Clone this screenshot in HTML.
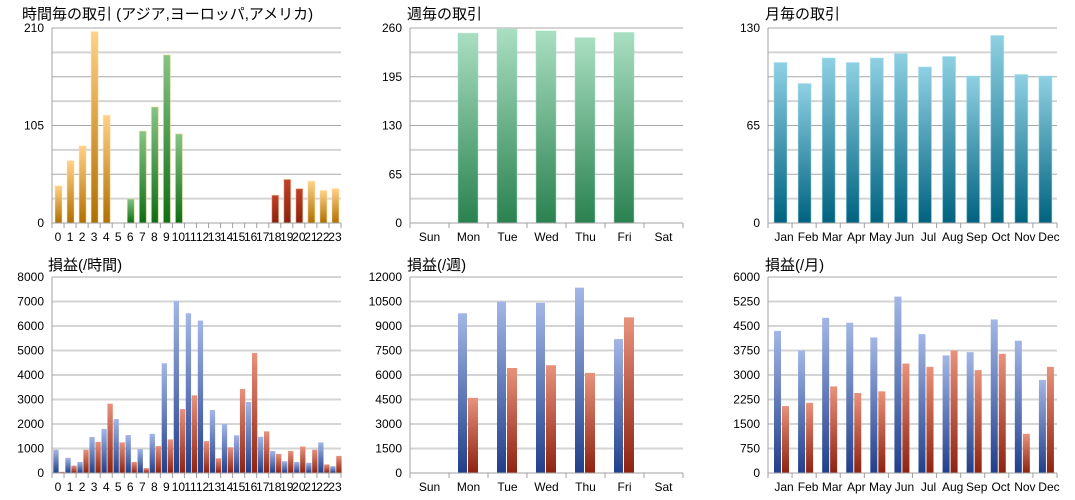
<!DOCTYPE html>
<html><head><meta charset="utf-8"><style>
html,body{margin:0;padding:0;background:#fff;width:1075px;height:500px;overflow:hidden}
svg text{font-family:"Liberation Sans","Noto Sans CJK JP",sans-serif;fill:#000}
</style></head><body>
<svg id="s" width="1075" height="500" xmlns="http://www.w3.org/2000/svg">
<defs>
<linearGradient id="gO" x1="0" y1="0" x2="0" y2="1"><stop offset="0" stop-color="#ffd187"/><stop offset="1" stop-color="#b06f00"/></linearGradient>
<linearGradient id="gG" x1="0" y1="0" x2="0" y2="1"><stop offset="0" stop-color="#86c486"/><stop offset="1" stop-color="#0d6e14"/></linearGradient>
<linearGradient id="gR" x1="0" y1="0" x2="0" y2="1"><stop offset="0" stop-color="#c0402c"/><stop offset="1" stop-color="#8a2210"/></linearGradient>
<linearGradient id="gW" x1="0" y1="0" x2="0" y2="1"><stop offset="0" stop-color="#a9dfc1"/><stop offset="1" stop-color="#2a8150"/></linearGradient>
<linearGradient id="gM" x1="0" y1="0" x2="0" y2="1"><stop offset="0" stop-color="#8fd0e3"/><stop offset="1" stop-color="#00627f"/></linearGradient>
<linearGradient id="gB" x1="0" y1="0" x2="0" y2="1"><stop offset="0" stop-color="#a3b7e6"/><stop offset="1" stop-color="#213f8a"/></linearGradient>
<linearGradient id="gE" x1="0" y1="0" x2="0" y2="1"><stop offset="0" stop-color="#e8927c"/><stop offset="1" stop-color="#8e2210"/></linearGradient>
</defs>
</svg>
<script>
var s=document.getElementById('s'),NS='http://www.w3.org/2000/svg';
function el(t,a,txt){var e=document.createElementNS(NS,t);for(var k in a)e.setAttribute(k,a[k]);if(txt!=null)e.textContent=txt;s.appendChild(e);return e;}
function chart(o){
 var x0=o.x0,x1=o.x1,y0=o.y0,y1=o.y1,n=o.cats.length,sw=(x1-x0)/n,H=y1-y0;
 el('text',{x:o.tx,y:o.ty,'font-size':15},o.title);
 for(var i=0;i<=o.grid;i++){var y=y1-H*i/o.grid;
  el('line',{x1:x0,x2:x1,y1:y,y2:y,stroke:(i%2==0?'#a8a8a8':'#d4d4d4'),'stroke-width':(i%2==0?1:2)});}
 for(var i=0;i<o.labels.length;i++){var y=y1-H*i/(o.labels.length-1);
  el('text',{x:x0-8,y:y+4,'font-size':12,'text-anchor':'end'},o.labels[i]);}
 for(var i=0;i<n;i++){var cx=x0+sw*i;
  for(var j=0;j<o.series.length;j++){var v=o.series[j].d[i];if(!v)continue;var h=H*v/o.max;
   var f=o.series[j].f;if(typeof f=='function')f=f(i);
   el('rect',{x:cx+o.series[j].off,y:y1-h,width:o.series[j].w,height:h,fill:f,stroke:o.series[j].st||'none','stroke-opacity':0.5,'stroke-width':1});}
  el('line',{x1:cx,x2:cx,y1:y1,y2:y1+5,stroke:'#a0a0a0'});
  el('text',{x:cx+sw/2+(o.lo||0),y:y1+18,'font-size':12,'text-anchor':'middle'},o.cats[i]);}
 el('line',{x1:x1,x2:x1,y1:y1,y2:y1+5,stroke:'#a0a0a0'});
 el('line',{x1:x0,x2:x0,y1:y0,y2:y1+5,stroke:'#a0a0a0'});
 el('line',{x1:x0,x2:x1,y1:y1,y2:y1,stroke:'#a0a0a0'});
}
var hrs=[];for(var i=0;i<24;i++)hrs.push(''+i);
var days=['Sun','Mon','Tue','Wed','Thu','Fri','Sat'];
var mons=['Jan','Feb','Mar','Apr','May','Jun','Jul','Aug','Sep','Oct','Nov','Dec'];
var hd=[40,67,83,206,116,0,26,99,125,181,96,0,0,0,0,0,0,0,30,47,37,45,35,37];
chart({x0:52,x1:341,y0:28,y1:223,tx:22,ty:19,title:'時間毎の取引 (アジア,ヨーロッパ,アメリカ)',cats:hrs,max:210,grid:8,labels:['0','105','210'],
 series:[{d:hd,off:3,w:7,st:'#ffe0a0',f:function(i){return i<=4||i>=21?'url(#gO)':(i<=10?'url(#gG)':'url(#gR)');}}]});
chart({x0:410,x1:683,y0:28,y1:223,tx:407,ty:19,title:'週毎の取引',cats:days,max:260,grid:8,labels:['0','65','130','195','260'],
 series:[{d:[0,253,258.5,256,247,254,0],off:9,w:20,f:'url(#gW)',st:'#a0e0c0'}]});
chart({x0:768,x1:1057,y0:28,y1:223,tx:765,ty:19,title:'月毎の取引',cats:mons,max:130,grid:8,labels:['0','65','130'],lo:4,
 series:[{d:[107,93,110,107,110,113,104,111,98,125,99,98],off:6,w:13,f:'url(#gM)',st:'#a0e0f0'}]});
chart({x0:52,x1:341,y0:277,y1:473,tx:48,ty:270,title:'損益(/時間)',cats:hrs,max:8000,grid:8,labels:['0','1000','2000','3000','4000','5000','6000','7000','8000'],
 series:[{d:[950,620,450,1470,1800,2200,1550,980,1600,4480,7020,6520,6220,2570,2000,1540,2900,1480,900,480,450,420,1250,280],off:1.3,w:5.3,f:'url(#gB)'},
 {d:[50,300,950,1270,2830,1250,450,200,1100,1370,2610,3170,1300,600,1050,3430,4900,1700,780,900,1080,950,350,700],off:7.3,w:5.3,f:'url(#gE)'}]});
chart({x0:410,x1:683,y0:277,y1:473,tx:407,ty:270,title:'損益(/週)',cats:days,max:12000,grid:8,labels:['0','1500','3000','4500','6000','7500','9000','10500','12000'],
 series:[{d:[0,9780,10500,10420,11350,8200,0],off:9,w:9,f:'url(#gB)'},{d:[0,4600,6430,6600,6130,9530,0],off:19,w:10,f:'url(#gE)'}]});
chart({x0:768,x1:1057,y0:277,y1:473,tx:765,ty:270,title:'損益(/月)',cats:mons,max:6000,grid:8,labels:['0','750','1500','2250','3000','3750','4500','5250','6000'],lo:4,
 series:[{d:[4350,3750,4750,4600,4150,5400,4250,3600,3700,4700,4050,2850],off:6,w:7,f:'url(#gB)'},{d:[2050,2150,2650,2450,2500,3350,3250,3750,3150,3650,1200,3250],off:14,w:7,f:'url(#gE)'}]});
</script>
</body></html>
